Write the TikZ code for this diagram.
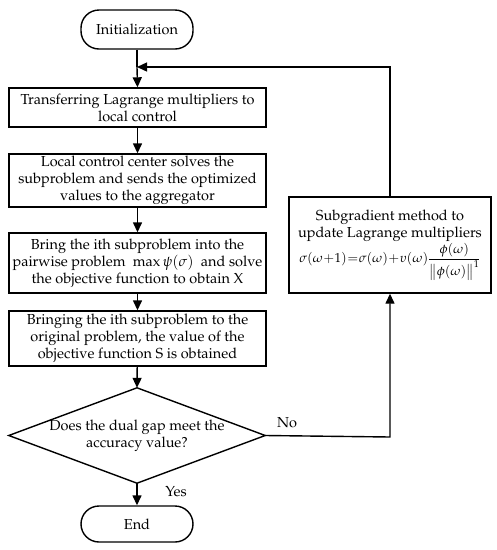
\documentclass[tikz,border=0pt]{standalone}
\usepackage[T1]{fontenc}
\usepackage{mathpazo}
\usetikzlibrary{arrows.meta}
\begin{document}
\begin{tikzpicture}[x=1pt,y=-1pt,
  every node/.style={font=\fontsize{14.5}{17}\selectfont},
  base/.style={draw,line width=1.4pt,align=center,inner sep=1pt},
  term/.style={base,minimum width=112pt,rounded corners=18pt},
  proc/.style={base,minimum width=257pt},
  dec/.style={align=center,inner sep=0pt,minimum width=256pt,minimum height=95pt},
  conn/.style={line width=1.4pt,-{Triangle[length=10pt,width=9pt]}},
  plain/.style={line width=1.4pt}]
\path[use as bounding box] (0,0) rectangle (497,550);
\node[term,minimum height=39pt] (init) at (137,29.5) {Initialization};
\node[proc,minimum height=39pt] (b1) at (137.5,107.5) {Transferring Lagrange multipliers to\\local control};
\node[proc,minimum height=53pt] (b2) at (137.5,180.5) {Local control center solves the\\subproblem and sends the optimized\\values to the aggregator};
\node[proc,minimum height=60pt] (b3) at (137.5,263) {Bring the ith subproblem into the\\pairwise problem \ $\max\psi(\sigma)$\ \ and solve\\the objective function to obtain X};
\node[proc,minimum height=55pt] (b4) at (137.5,338.5) {Bringing the ith subproblem to the\\original problem, the value of the\\objective function S is obtained};
\node[dec] (d) at (137,435.5) {Does the dual gap meet the\\accuracy value?};
\draw[plain,line join=miter] (d.north) -- (d.east) -- (d.south) -- (d.west) -- cycle;
\node[term,minimum height=36pt] (end) at (137,524) {End};
\node[base,minimum width=202pt,minimum height=96pt] (sub) at (390,245) {Subgradient method to\\update Lagrange multipliers\\[1pt]
{\fontsize{13}{15}\selectfont$\medmuskip=0.5mu\thickmuskip=1mu\displaystyle\sigma(\omega+1)=\sigma(\omega)+\upsilon(\omega)\frac{\phi(\omega)}{\bigl\|\phi(\omega)\bigr\|^{1}}$}};
\coordinate (m) at (137,67);
\coordinate (c1) at (390,437);
\coordinate (c2) at (390,67);
\draw[plain] (init.south) -- (m);
\draw[conn] (m) -- (b1.north);
\draw[conn] (b1) -- (b2);
\draw[conn] (b2) -- (b3);
\draw[conn] (b3) -- (b4);
\draw[conn] (b4) -- (d.north);
\draw[conn] (d.south) -- (end.north);
\draw[conn] (d.east) -- (c1) -- (sub.south);
\draw[conn] (sub.north) -- (c2) -- (m);
\node[anchor=center] (yes) at (176,492) {Yes};
\node[anchor=center] (no) at (287,423) {No};
\end{tikzpicture}
\end{document}
